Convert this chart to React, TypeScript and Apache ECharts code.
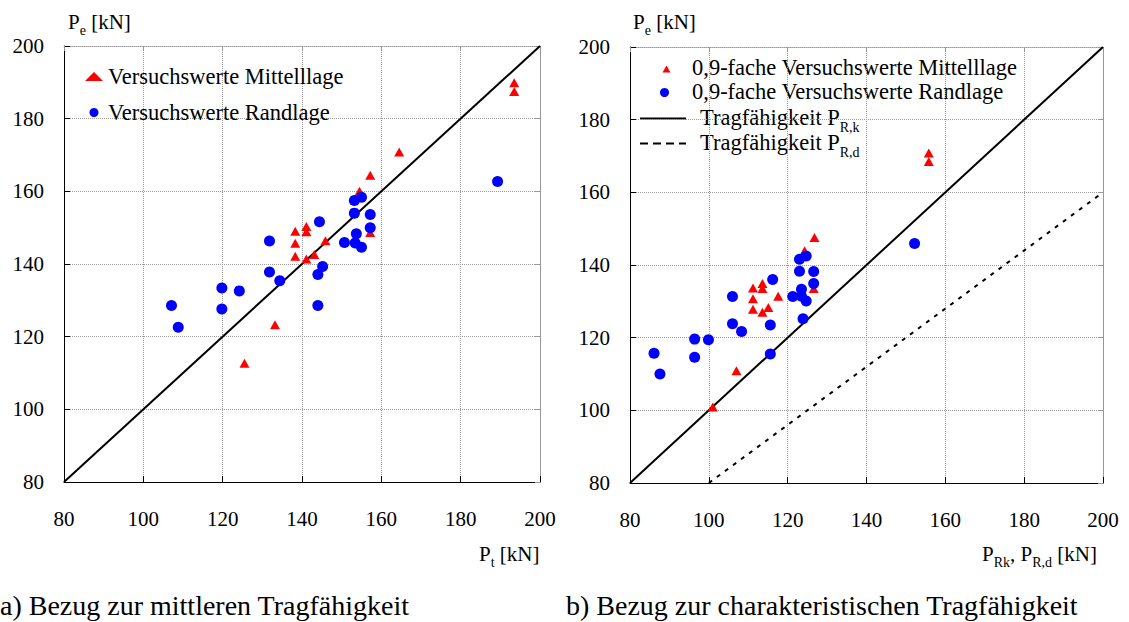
import React, { useEffect, useRef } from "react";
import * as echarts from "echarts";

// ---- data ----
const axisTicks = [80, 100, 120, 140, 160, 180, 200];

// a) left chart: Versuchswerte Mittellage (triangles)
const leftMittelX = [125.5, 133.2, 138.3, 138.3, 138.3, 141.1, 141.1, 141.1, 143.1, 145.9, 154.5, 157.2, 157.2, 164.5, 193.5, 193.5];
const leftMittelY = [112.7, 123.3, 149.0, 145.7, 142.1, 150.3, 148.9, 141.4, 142.6, 146.4, 160.0, 164.4, 148.7, 170.8, 189.9, 187.5];
// a) left chart: Versuchswerte Randlage (circles)
const leftRandX = [107.1, 108.8, 119.8, 119.8, 124.2, 131.8, 131.8, 134.4, 144.4, 145.2, 144.0, 144.0, 150.7, 153.2, 155.0, 153.2, 157.2, 157.2, 153.7, 153.4, 155.0, 189.3];
const leftRandY = [128.6, 122.6, 133.4, 127.6, 132.6, 146.3, 137.8, 135.4, 151.6, 139.3, 137.1, 128.6, 145.9, 157.5, 158.4, 154.0, 153.6, 150.0, 148.3, 145.8, 144.6, 162.7];

// b) right chart: 0,9-fache Versuchswerte Mittellage (triangles)
const rightMittelX = [101.0, 107.0, 111.2, 111.2, 111.2, 113.6, 113.6, 113.6, 115.1, 117.6, 124.3, 126.6, 126.8, 155.8, 155.8];
const rightMittelY = [100.9, 110.9, 133.7, 130.7, 127.8, 134.9, 133.5, 127.0, 128.3, 131.4, 143.9, 133.5, 147.6, 170.8, 168.5];
// b) right chart: 0,9-fache Versuchswerte Randlage (circles)
const rightRandX = [86.1, 87.6, 96.4, 96.4, 99.9, 106.0, 106.0, 108.3, 115.6, 115.6, 116.2, 121.3, 123.0, 124.7, 123.0, 126.6, 126.6, 123.5, 123.5, 124.7, 123.9, 152.2];
const rightRandY = [115.7, 110.0, 119.6, 114.6, 119.4, 131.3, 123.8, 121.7, 115.5, 123.5, 136.0, 131.3, 141.6, 142.5, 138.3, 138.2, 134.9, 133.3, 131.4, 130.1, 125.2, 145.9];

// reference lines
const lineMeanX = [80, 200];
const lineMeanY = [80, 200];
const lineRkX = [80, 200];
const lineRkY = [80, 200];
const lineRdX = [100, 200];
const lineRdY = [80, 160];

const names = {
  lm: "Versuchswerte Mittelllage",
  lr: "Versuchswerte Randlage",
  rm: "0,9-fache Versuchswerte Mittelllage",
  rr: "0,9-fache Versuchswerte Randlage",
  rk: "Tragfähigkeit PR,k",
  rd: "Tragfähigkeit PR,d",
};

const zip = (xs: number[], ys: number[]) => xs.map((x, i) => [x, ys[i]]);

const FONT = "Liberation Serif, Times New Roman, serif";
const RED = "#ff0000";
const BLUE = "#0000ff";

const subRich = (size: number, sub: number) => ({
  a: { fontSize: size, fontFamily: FONT, color: "#000", fill: "#000", verticalAlign: "bottom", padding: [0, 0, 5, 0] },
  s: { fontSize: sub, fontFamily: FONT, color: "#000", fill: "#000", verticalAlign: "bottom" },
});

export default function App() {
  const ref = useRef<HTMLDivElement>(null);

  useEffect(() => {
    if (!ref.current) return;
    const chart = echarts.init(ref.current, null, { renderer: "svg" });

    const mainX = (gridIndex: number) => ({
      type: "value",
      gridIndex,
      position: "bottom",
      min: axisTicks[0],
      max: axisTicks[axisTicks.length - 1],
      interval: 20,
      axisLine: { show: true, onZero: false, lineStyle: { color: "#000", width: 1 } },
      axisTick: { show: true, inside: true, length: 6, lineStyle: { color: "#000" } },
      axisLabel: { fontSize: 21, fontFamily: FONT, color: "#000", margin: 26 },
      splitLine: { show: true, lineStyle: { color: "#999", type: "dotted", width: 1 } },
    });
    const boxX = (gridIndex: number) => ({
      type: "value",
      gridIndex,
      position: "top",
      min: axisTicks[0],
      max: axisTicks[axisTicks.length - 1],
      interval: 20,
      axisLine: { show: true, onZero: false, lineStyle: { color: "#999", width: 1, type: "dotted" } },
      axisTick: { show: true, inside: true, length: 5, lineStyle: { color: "#999" } },
      axisLabel: { show: false },
      splitLine: { show: false },
    });
    const mainY = (gridIndex: number) => ({
      type: "value",
      gridIndex,
      position: "left",
      min: axisTicks[0],
      max: axisTicks[axisTicks.length - 1],
      interval: 20,
      axisLine: { show: true, onZero: false, lineStyle: { color: "#000", width: 1 } },
      axisTick: { show: true, inside: true, length: 6, lineStyle: { color: "#000" } },
      axisLabel: { fontSize: 21, fontFamily: FONT, color: "#000", margin: 20 },
      splitLine: { show: true, lineStyle: { color: "#999", type: "dotted", width: 1 } },
    });
    const boxY = (gridIndex: number) => ({
      type: "value",
      gridIndex,
      position: "right",
      min: axisTicks[0],
      max: axisTicks[axisTicks.length - 1],
      interval: 20,
      axisLine: { show: true, onZero: false, lineStyle: { color: "#999", width: 1, type: "dotted" } },
      axisTick: { show: true, inside: true, length: 5, lineStyle: { color: "#999" } },
      axisLabel: { show: false },
      splitLine: { show: false },
    });

    const text = (left: number, top: number, t: string, size = 22) => ({
      type: "text",
      left,
      top,
      style: { text: t, fontSize: size, fontFamily: FONT, fill: "#000" },
    });
    const richText = (left: number, top: number, t: string, size: number, sub: number) => ({
      type: "text",
      left,
      top,
      style: { text: t, rich: subRich(size, sub), fill: "#000" },
    });

    const option: any = {
      animation: false,
      backgroundColor: "#fff",
      textStyle: { fontFamily: FONT },
      grid: [
        { left: 64, top: 46, width: 476, height: 436 },
        { left: 630, top: 47, width: 473, height: 436 },
      ],
      xAxis: [mainX(0), boxX(0), mainX(1), boxX(1)],
      yAxis: [mainY(0), boxY(0), mainY(1), boxY(1)],
      legend: [
        {
          orient: "vertical",
          left: 80,
          top: 60,
          itemWidth: 18,
          itemHeight: 9,
          itemGap: 13,
          data: [names.lm, names.lr],
          textStyle: { fontSize: 22.5, fontFamily: FONT, color: "#000" },
          selectedMode: false,
        },
      ],
      graphic: [
        // right legend, drawn by hand
        {
          type: "polygon",
          shape: { points: [[662.5, 72.5], [670.5, 72.5], [666.5, 65.5]] },
          style: { fill: RED },
        },
        { type: "circle", shape: { cx: 664.5, cy: 92.5, r: 4.5 }, style: { fill: BLUE } },
        { type: "line", shape: { x1: 640, y1: 118.5, x2: 686, y2: 118.5 }, style: { stroke: "#000", lineWidth: 2 } },
        {
          type: "line",
          shape: { x1: 640, y1: 143.5, x2: 686, y2: 143.5 },
          style: { stroke: "#000", lineWidth: 2, lineDash: [8, 5] },
        },
        text(692, 56, names.rm, 22.5),
        text(692, 80, names.rr, 22.5),
        richText(700, 106, "{a|Tragfähigkeit P}{s|R,k}", 22.5, 14),
        richText(700, 131, "{a|Tragfähigkeit P}{s|R,d}", 22.5, 14),
        // axis titles
        richText(68, 11, "{a|P}{s|e}{a| [kN]}", 21, 14),
        richText(633, 11, "{a|P}{s|e}{a| [kN]}", 21, 14),
        richText(479, 543, "{a|P}{s|t}{a| [kN]}", 21, 14),
        richText(982, 543, "{a|P}{s|Rk}{a|, P}{s|R,d}{a| [kN]}", 21, 14),
        // captions
        text(0, 591, "a) Bezug zur mittleren Tragfähigkeit", 28),
        text(566, 591, "b) Bezug zur charakteristischen Tragfähigkeit", 28),
      ],
      series: [
        {
          name: "Mittelwert-Linie",
          type: "line",
          xAxisIndex: 0,
          yAxisIndex: 0,
          data: zip(lineMeanX, lineMeanY),
          symbol: "none",
          lineStyle: { color: "#000", width: 2 },
          z: 3,
        },
        {
          name: names.lm,
          type: "scatter",
          xAxisIndex: 0,
          yAxisIndex: 0,
          data: zip(leftMittelX, leftMittelY),
          symbol: "triangle",
          symbolSize: [10, 9],
          itemStyle: { color: RED, opacity: 1 },
          z: 4,
        },
        {
          name: names.lr,
          type: "scatter",
          xAxisIndex: 0,
          yAxisIndex: 0,
          data: zip(leftRandX, leftRandY),
          symbol: "circle",
          symbolSize: 11,
          itemStyle: { color: BLUE, opacity: 1 },
          z: 5,
        },
        {
          name: names.rk,
          type: "line",
          xAxisIndex: 2,
          yAxisIndex: 2,
          data: zip(lineRkX, lineRkY),
          symbol: "none",
          lineStyle: { color: "#000", width: 2 },
          z: 3,
        },
        {
          name: names.rd,
          type: "line",
          xAxisIndex: 2,
          yAxisIndex: 2,
          data: zip(lineRdX, lineRdY),
          symbol: "none",
          lineStyle: { color: "#000", width: 2, type: [4, 6] },
          z: 3,
        },
        {
          name: names.rm,
          type: "scatter",
          xAxisIndex: 2,
          yAxisIndex: 2,
          data: zip(rightMittelX, rightMittelY),
          symbol: "triangle",
          symbolSize: [10, 9],
          itemStyle: { color: RED, opacity: 1 },
          z: 4,
        },
        {
          name: names.rr,
          type: "scatter",
          xAxisIndex: 2,
          yAxisIndex: 2,
          data: zip(rightRandX, rightRandY),
          symbol: "circle",
          symbolSize: 11,
          itemStyle: { color: BLUE, opacity: 1 },
          z: 5,
        },
      ],
    };

    chart.setOption(option);
    return () => chart.dispose();
  }, []);

  return (
    <div
      ref={ref}
      style={{ position: "absolute", left: 0, top: 0, width: 1129, height: 622, background: "#fff" }}
    />
  );
}
